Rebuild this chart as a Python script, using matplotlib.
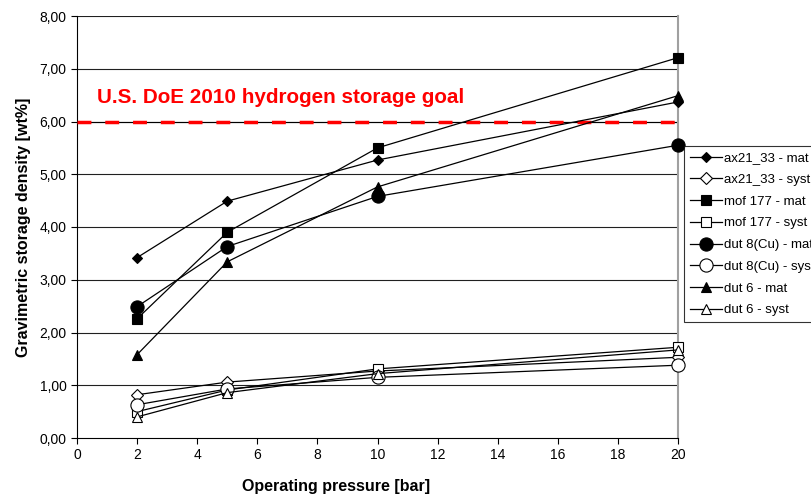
import matplotlib
matplotlib.use("Agg")
import matplotlib.pyplot as plt
from matplotlib.ticker import FuncFormatter

plt.rcParams['font.family'] = ['Liberation Sans', 'DejaVu Sans']

# pressure points [bar]
pressure = [2, 5, 10, 20]

# gravimetric density [wt%]
ax21_mat = [3.42, 4.49, 5.27, 6.37]
ax21_syst = [0.82, 1.06, 1.27, 1.53]
mof_mat = [2.26, 3.90, 5.50, 7.21]
mof_syst = [0.50, 0.91, 1.31, 1.72]
dut8_mat = [2.49, 3.63, 4.58, 5.55]
dut8_syst = [0.63, 0.93, 1.15, 1.38]
dut6_mat = [1.58, 3.34, 4.76, 6.49]
dut6_syst = [0.40, 0.86, 1.22, 1.67]

goal = 6.0
goal_label = "U.S. DoE 2010 hydrogen storage goal"

series = [
    ("ax21_33 - mat", ax21_mat, "D", "black", 5.5),
    ("ax21_33 - syst", ax21_syst, "D", "white", 6),
    ("mof 177 - mat", mof_mat, "s", "black", 7),
    ("mof 177 - syst", mof_syst, "s", "white", 7),
    ("dut 8(Cu) - mat", dut8_mat, "o", "black", 9.5),
    ("dut 8(Cu) - syst", dut8_syst, "o", "white", 9.5),
    ("dut 6 - mat", dut6_mat, "^", "black", 7.5),
    ("dut 6 - syst", dut6_syst, "^", "white", 7.5),
]

fig = plt.figure(figsize=(8.12, 4.97), dpi=100)
ax = fig.add_axes([77 / 812, 1 - 438 / 497, (678 - 77) / 812, (438 - 16) / 497])

for y in range(1, 9):
    ax.axhline(y, color="#202020", lw=0.8, zorder=1)

ax.axhline(goal, color="black", lw=0.8, zorder=2)
ax.axhline(goal, color="#ff0000", lw=2.5, dashes=(4, 4), zorder=3)
ax.text(0.66, 6.46, goal_label, color="#ff0000", fontsize=14.9, fontweight="bold",
        va="center", ha="left")

for name, vals, m, fc, ms in series:
    ax.plot(pressure, vals, color="black", lw=0.9, marker=m, markersize=ms,
            markerfacecolor=fc, markeredgecolor="black", markeredgewidth=0.8,
            label=name, zorder=4, clip_on=False)

ax.set_xlim(0, 20)
ax.set_ylim(0, 8)
ax.set_xticks(range(0, 21, 2))
ax.set_yticks(range(0, 9))
ax.yaxis.set_major_formatter(FuncFormatter(lambda v, p: f"{v:.2f}".replace(".", ",")))
ax.tick_params(labelsize=10, direction="out", length=4, width=0.8)

ax.spines["top"].set_visible(False)
ax.spines["right"].set_color("#a0a0a0")
ax.spines["right"].set_linewidth(1.5)
ax.spines["left"].set_linewidth(0.8)
ax.spines["bottom"].set_linewidth(0.8)

ax.set_ylabel("Gravimetric storage density [wt%]", fontsize=11.5, fontweight="bold", labelpad=6)
fig.text(336 / 812, 1 - 486 / 497, "Operating pressure [bar]", fontsize=11.5,
         fontweight="bold", ha="center", va="center")

leg = fig.legend(loc="upper left", bbox_to_anchor=(684 / 812, 1 - 146 / 497),
                 fontsize=9.5, frameon=True, fancybox=False, edgecolor="black",
                 handlelength=2.4, handletextpad=0.15, borderpad=0.45,
                 labelspacing=0.72, borderaxespad=0)
leg.get_frame().set_linewidth(0.8)

fig.savefig("out.png", dpi=100)
